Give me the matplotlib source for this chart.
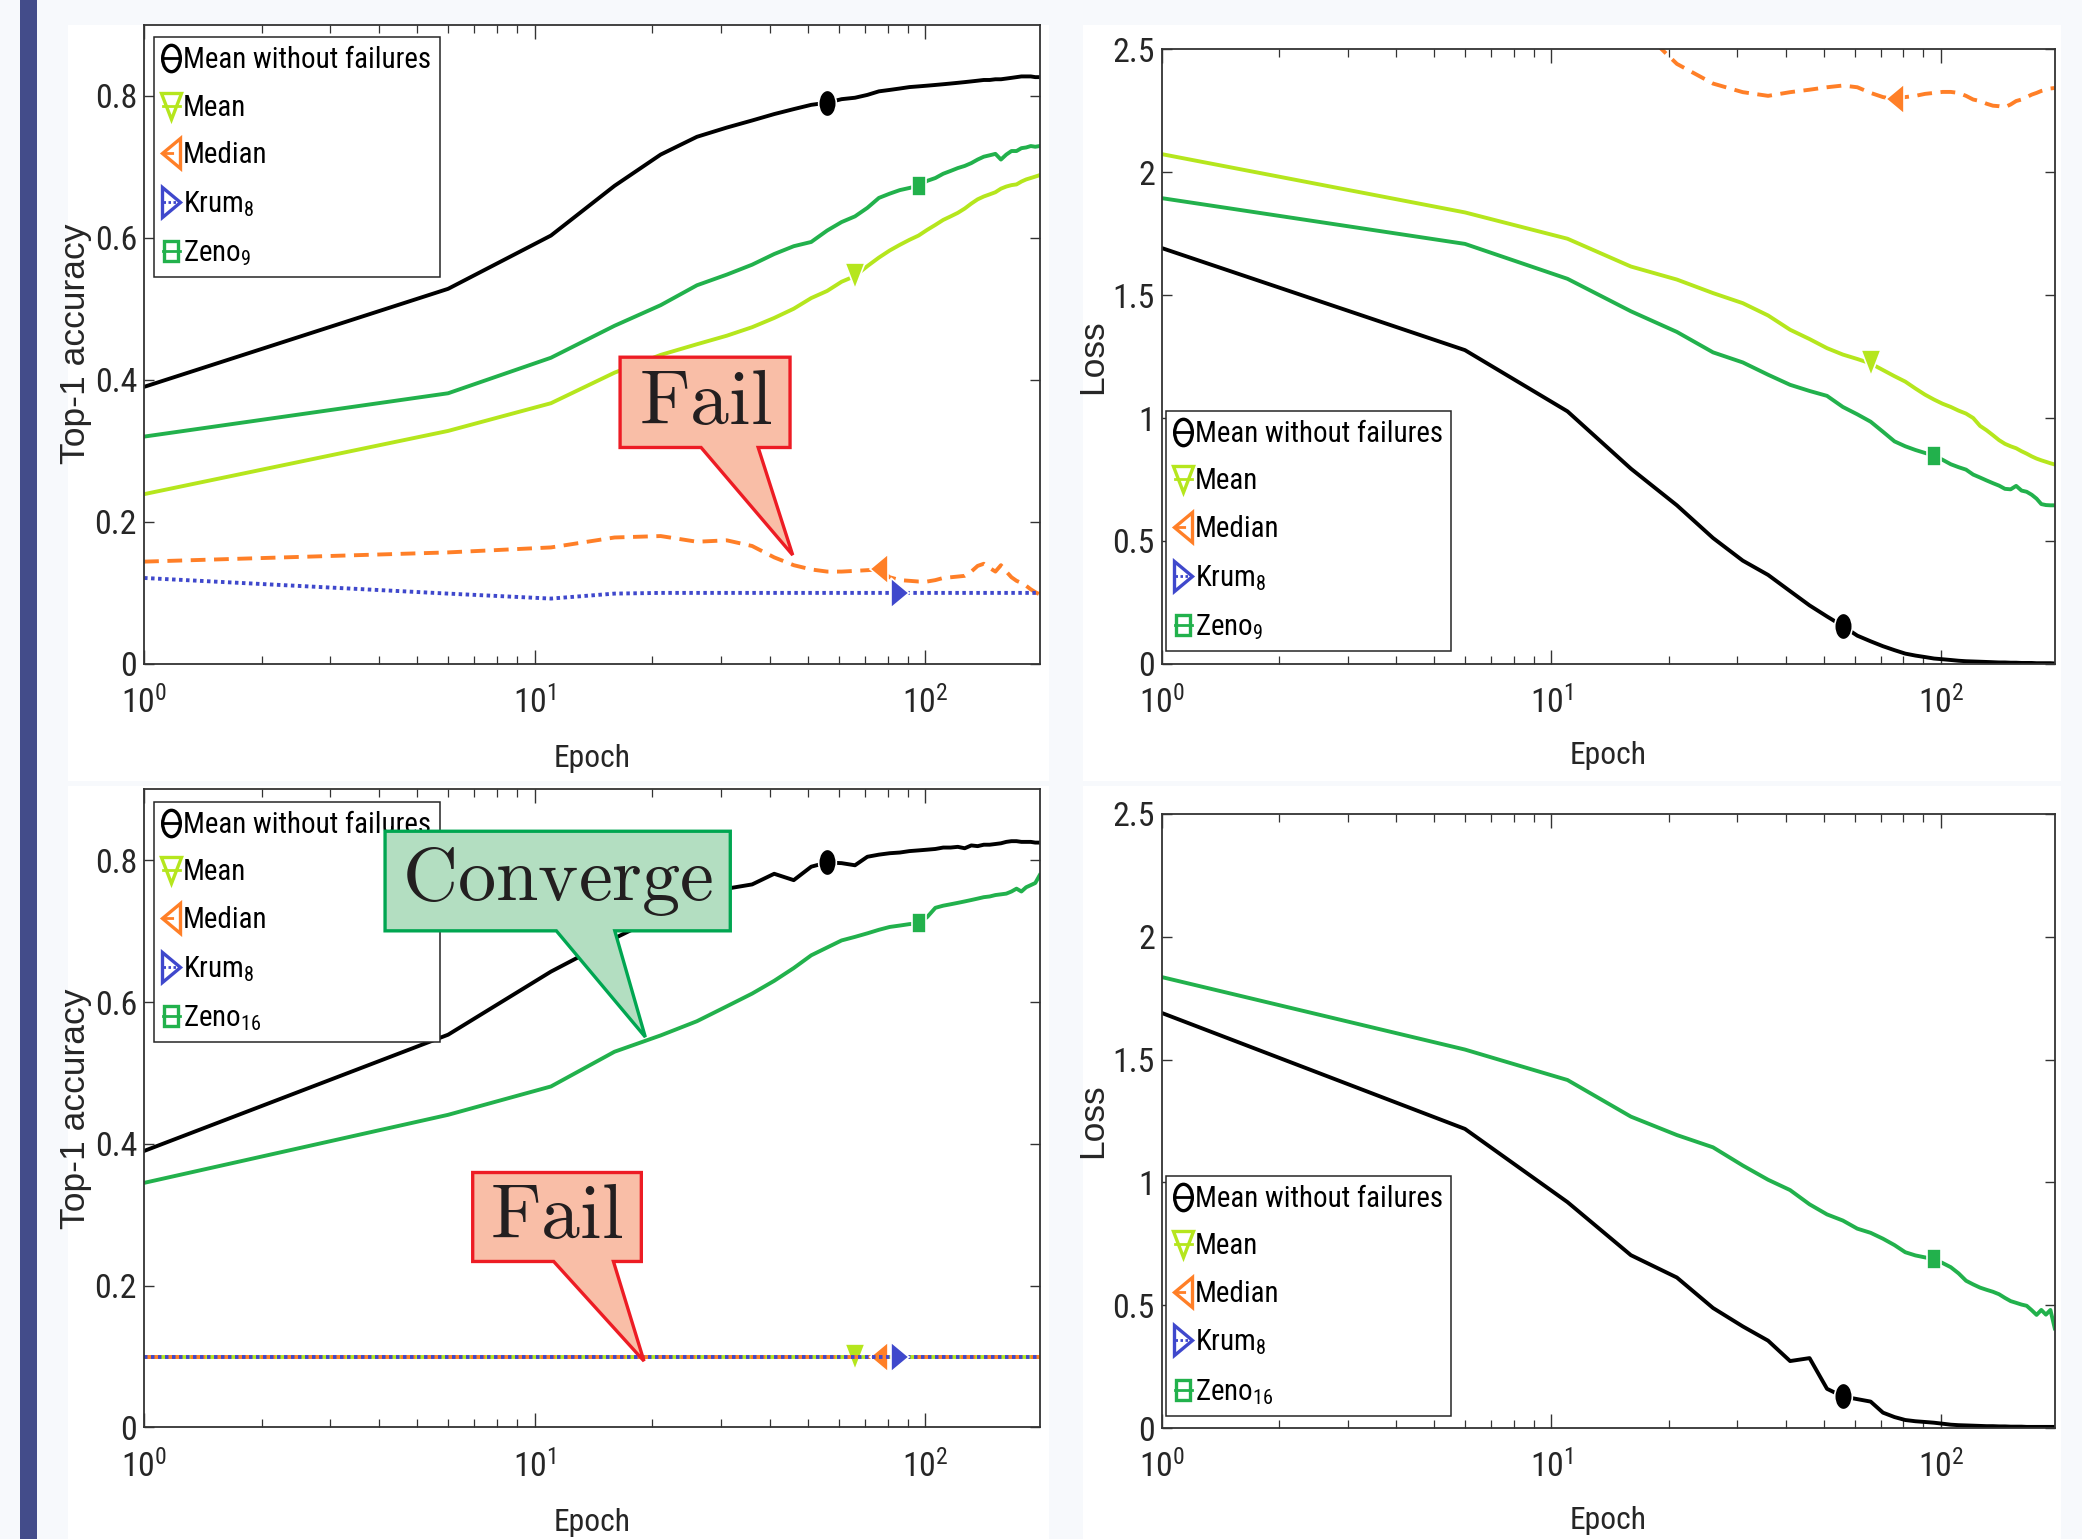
import numpy as np
import matplotlib
matplotlib.use('Agg')
import matplotlib.pyplot as plt
from matplotlib import font_manager
from matplotlib.markers import MarkerStyle
from matplotlib.transforms import Affine2D
from matplotlib.lines import Line2D
from matplotlib.patches import Polygon, Rectangle
from matplotlib.ticker import LogLocator, NullFormatter

# ---------------- data ----------------
epochs = [1, 6, 11, 16, 21, 26, 31, 36, 41, 46,
          51, 56, 61, 66, 71, 76, 81, 86, 91, 96,
          101, 106, 111, 116, 121, 126, 131, 136, 141, 146,
          151, 156, 161, 166, 171, 176, 181, 186, 191, 196]

# top row: Zeno_9 experiment
acc_nofail_top = [0.390, 0.528, 0.603, 0.673, 0.717, 0.742, 0.755, 0.765, 0.774, 0.781,
                  0.787, 0.790, 0.795, 0.797, 0.801, 0.806, 0.808, 0.810, 0.812, 0.813,
                  0.814, 0.815, 0.816, 0.817, 0.818, 0.819, 0.820, 0.821, 0.822, 0.822,
                  0.823, 0.823, 0.824, 0.825, 0.826, 0.827, 0.827, 0.827, 0.826, 0.826]
acc_mean_top = [0.239, 0.328, 0.367, 0.410, 0.435, 0.450, 0.462, 0.474, 0.487, 0.500,
                0.515, 0.525, 0.538, 0.546, 0.560, 0.572, 0.582, 0.590, 0.597, 0.603,
                0.611, 0.618, 0.625, 0.630, 0.635, 0.641, 0.648, 0.654, 0.658, 0.661,
                0.664, 0.669, 0.672, 0.674, 0.675, 0.679, 0.682, 0.684, 0.686, 0.688]
acc_median_top = [0.144, 0.157, 0.164, 0.178, 0.180, 0.172, 0.174, 0.166, 0.150, 0.139,
                  0.133, 0.130, 0.130, 0.131, 0.132, 0.133, 0.122, 0.118, 0.117, 0.116,
                  0.116, 0.118, 0.121, 0.122, 0.123, 0.124, 0.130, 0.138, 0.141, 0.135,
                  0.130, 0.139, 0.130, 0.122, 0.117, 0.114, 0.110, 0.105, 0.101, 0.098]
acc_krum_top = [0.121, 0.099, 0.092, 0.099, 0.100, 0.100, 0.100, 0.100, 0.100, 0.100,
                0.100, 0.100, 0.100, 0.100, 0.100, 0.100, 0.100, 0.100, 0.100, 0.100,
                0.100, 0.100, 0.100, 0.100, 0.100, 0.100, 0.100, 0.100, 0.100, 0.100,
                0.100, 0.100, 0.100, 0.100, 0.100, 0.100, 0.100, 0.100, 0.100, 0.100]
acc_zeno_top = [0.320, 0.381, 0.431, 0.476, 0.505, 0.533, 0.548, 0.562, 0.577, 0.588,
                0.594, 0.610, 0.622, 0.630, 0.642, 0.656, 0.662, 0.667, 0.670, 0.673,
                0.680, 0.684, 0.690, 0.694, 0.698, 0.701, 0.705, 0.710, 0.714, 0.716,
                0.718, 0.710, 0.717, 0.722, 0.722, 0.726, 0.727, 0.729, 0.728, 0.729]

loss_nofail_top = [1.691, 1.276, 1.027, 0.794, 0.645, 0.512, 0.420, 0.362, 0.296, 0.238,
                   0.193, 0.154, 0.115, 0.092, 0.072, 0.056, 0.042, 0.034, 0.028, 0.022,
                   0.019, 0.016, 0.013, 0.011, 0.010, 0.009, 0.008, 0.007, 0.006, 0.006,
                   0.005, 0.005, 0.004, 0.004, 0.004, 0.003, 0.003, 0.003, 0.003, 0.002]
loss_mean_top = [2.073, 1.836, 1.729, 1.616, 1.563, 1.508, 1.467, 1.417, 1.359, 1.321,
                 1.284, 1.258, 1.240, 1.222, 1.195, 1.170, 1.148, 1.120, 1.095, 1.075,
                 1.058, 1.045, 1.030, 1.018, 1.000, 0.968, 0.950, 0.930, 0.910, 0.895,
                 0.885, 0.877, 0.865, 0.855, 0.844, 0.835, 0.828, 0.822, 0.816, 0.811]
loss_median_top = [3.200, 2.950, 2.800, 2.620, 2.440, 2.360, 2.325, 2.310, 2.325, 2.335,
                   2.345, 2.352, 2.345, 2.322, 2.305, 2.297, 2.305, 2.310, 2.318, 2.322,
                   2.326, 2.326, 2.322, 2.310, 2.295, 2.289, 2.278, 2.270, 2.268, 2.264,
                   2.275, 2.289, 2.295, 2.305, 2.315, 2.322, 2.330, 2.335, 2.340, 2.342]
loss_zeno_top = [1.894, 1.708, 1.566, 1.434, 1.350, 1.267, 1.226, 1.176, 1.135, 1.110,
                 1.090, 1.045, 1.015, 0.985, 0.944, 0.905, 0.885, 0.870, 0.858, 0.847,
                 0.830, 0.812, 0.800, 0.790, 0.770, 0.758, 0.746, 0.735, 0.725, 0.712,
                 0.710, 0.724, 0.705, 0.700, 0.688, 0.672, 0.650, 0.646, 0.645, 0.645]

# bottom row: Zeno_16 experiment
acc_nofail_bot = [0.390, 0.554, 0.643, 0.690, 0.722, 0.745, 0.760, 0.766, 0.781, 0.772,
                  0.791, 0.797, 0.796, 0.793, 0.805, 0.808, 0.810, 0.811, 0.813, 0.814,
                  0.815, 0.816, 0.818, 0.818, 0.819, 0.817, 0.821, 0.820, 0.822, 0.822,
                  0.823, 0.824, 0.826, 0.827, 0.827, 0.826, 0.826, 0.826, 0.825, 0.825]
acc_mean_bot = [0.100, 0.100, 0.100, 0.100, 0.100, 0.100, 0.100, 0.100, 0.100, 0.100,
                0.100, 0.100, 0.100, 0.100, 0.100, 0.100, 0.100, 0.100, 0.100, 0.100,
                0.100, 0.100, 0.100, 0.100, 0.100, 0.100, 0.100, 0.100, 0.100, 0.100,
                0.100, 0.100, 0.100, 0.100, 0.100, 0.100, 0.100, 0.100, 0.100, 0.100]
acc_median_bot = [0.100, 0.100, 0.100, 0.100, 0.100, 0.100, 0.100, 0.100, 0.100, 0.100,
                  0.100, 0.100, 0.100, 0.100, 0.100, 0.100, 0.100, 0.100, 0.100, 0.100,
                  0.100, 0.100, 0.100, 0.100, 0.100, 0.100, 0.100, 0.100, 0.100, 0.100,
                  0.100, 0.100, 0.100, 0.100, 0.100, 0.100, 0.100, 0.100, 0.100, 0.100]
acc_krum_bot = [0.100, 0.100, 0.100, 0.100, 0.100, 0.100, 0.100, 0.100, 0.100, 0.100,
                0.100, 0.100, 0.100, 0.100, 0.100, 0.100, 0.100, 0.100, 0.100, 0.100,
                0.100, 0.100, 0.100, 0.100, 0.100, 0.100, 0.100, 0.100, 0.100, 0.100,
                0.100, 0.100, 0.100, 0.100, 0.100, 0.100, 0.100, 0.100, 0.100, 0.100]
acc_zeno_bot = [0.345, 0.441, 0.481, 0.530, 0.553, 0.573, 0.594, 0.612, 0.630, 0.648,
                0.666, 0.677, 0.687, 0.692, 0.697, 0.702, 0.706, 0.708, 0.710, 0.711,
                0.720, 0.733, 0.736, 0.738, 0.740, 0.742, 0.744, 0.746, 0.748, 0.749,
                0.751, 0.752, 0.753, 0.756, 0.760, 0.756, 0.762, 0.765, 0.768, 0.779]

loss_nofail_bot = [1.690, 1.218, 0.920, 0.704, 0.613, 0.489, 0.414, 0.356, 0.273, 0.285,
                   0.160, 0.129, 0.118, 0.108, 0.063, 0.045, 0.033, 0.028, 0.025, 0.022,
                   0.018, 0.014, 0.012, 0.011, 0.010, 0.009, 0.008, 0.008, 0.007, 0.007,
                   0.006, 0.006, 0.006, 0.005, 0.005, 0.005, 0.005, 0.005, 0.005, 0.005]
loss_zeno_bot = [1.836, 1.541, 1.417, 1.268, 1.193, 1.143, 1.069, 1.011, 0.969, 0.911,
                 0.870, 0.845, 0.812, 0.795, 0.771, 0.745, 0.716, 0.703, 0.695, 0.688,
                 0.672, 0.655, 0.630, 0.600, 0.585, 0.572, 0.563, 0.555, 0.545, 0.530,
                 0.517, 0.510, 0.503, 0.498, 0.480, 0.461, 0.481, 0.462, 0.481, 0.406]

acc_ticks = [0, 0.2, 0.4, 0.6, 0.8]
acc_ticklabels = ['0', '0.2', '0.4', '0.6', '0.8']
loss_ticks = [0, 0.5, 1, 1.5, 2, 2.5]
loss_ticklabels = ['0', '0.5', '1', '1.5', '2', '2.5']

labels_top = ['Mean without failures', 'Mean', 'Median', r'Krum$_{8}$', r'Zeno$_{9}$']
labels_bot = ['Mean without failures', 'Mean', 'Median', r'Krum$_{8}$', r'Zeno$_{16}$']

# ---------------- fonts ----------------
ttf = font_manager.fontManager.ttflist
names = {f.name for f in ttf}
REG = 'Liberation Sans' if 'Liberation Sans' in names else 'DejaVu Sans'
NARROW, STRETCH = None, 'normal'
for n in ['Liberation Sans Narrow', 'Arial Narrow', 'Roboto Condensed',
          'Open Sans Condensed', 'Noto Sans Condensed', 'Nimbus Sans Narrow']:
    if n in names:
        NARROW = n
        break
if NARROW is None:
    conds = {f.name for f in ttf
             if str(f.stretch) in ('condensed', 'semi-condensed') and f.style == 'normal'}
    for n in ['Liberation Sans', 'Roboto', 'Noto Sans', 'Open Sans', 'DejaVu Sans', 'Lato', 'Inter']:
        if n in conds:
            NARROW, STRETCH = n, 'condensed'
            break
if NARROW is None:
    NARROW = REG

plt.rcParams.update({
    'font.family': [NARROW, 'DejaVu Sans'],
    'font.stretch': STRETCH,
    'mathtext.fontset': 'custom',
    'mathtext.rm': NARROW + (':stretch=condensed' if STRETCH != 'normal' else ''),
    'mathtext.it': NARROW + ':italic',
    'mathtext.bf': NARROW + ':bold',
    'mathtext.sf': NARROW,
})

C_MEAN = '#b5e61d'
C_MED = '#ff7f27'
C_KRUM = '#3f48cc'
C_ZENO = '#22b14c'
C_AX = '#333333'

def mk(m, sx):
    return MarkerStyle(m, transform=Affine2D().scale(sx, 1.0))

MK = {'o': (mk('o', 0.67), 19), 'v': (mk('v', 0.77), 19), '<': (mk('<', 0.60), 22),
      '>': (mk('>', 0.60), 22), 's': (mk('s', 0.69), 15)}

W, H = 1568.0, 1159.0
SC = 2082.0 / W  # shown px -> output px
def fx(x):
    return x / W
def fy(y):
    return 1 - y / H

fig = plt.figure(figsize=(20.82, 15.39), dpi=100, facecolor='#f7f9fc')
renderer = fig.canvas.get_renderer()

def fit_size(s, target_px, limit):
    t = fig.text(0, 0, s, fontsize=20)
    w = t.get_window_extent(renderer).width
    t.remove()
    return min(20.0 * target_px / w, limit)

# sizes adapted to the available font width (reference text is narrow and tall)
LEG_FS = fit_size('Mean without failures', 186 * SC, 24)
TICK_FS = fit_size('0.8', 32 * SC, 27)
XLAB_FS = fit_size('Epoch', 58 * SC, 25)
row_px = 35.5 * SC
LEG_SP = max(0.25, row_px / (LEG_FS * 100 / 72.0) - 0.95)

# left accent bar and white panels
fig.add_artist(Rectangle((fx(15), 0), fx(28) - fx(15), 1, transform=fig.transFigure,
                         facecolor='#434c8a', edgecolor='none', zorder=-5))
for (x0, y0, x1, y1) in [(51, 19, 790, 588), (816, 19, 1552, 588),
                         (51, 592, 790, 1159), (816, 592, 1552, 1159)]:
    fig.add_artist(Rectangle((fx(x0), fy(y1)), fx(x1) - fx(x0), fy(y0) - fy(y1),
                             transform=fig.transFigure, facecolor='white',
                             edgecolor='none', zorder=-4))

def add_ax(x0, y0, x1, y1):
    return fig.add_axes([fx(x0), fy(y1), fx(x1) - fx(x0), fy(y0) - fy(y1)])

ax_tl = add_ax(108.5, 18.5, 783, 500)
ax_tr = add_ax(875, 37, 1547.5, 500)
ax_bl = add_ax(108.5, 594.5, 783, 1075)
ax_br = add_ax(875, 613, 1547.5, 1075.5)

def setup(ax, kind):
    ax.set_xscale('log')
    ax.set_xlim(epochs[0], epochs[-1])
    if kind == 'acc':
        ax.set_ylim(0, 0.9)
        ax.set_yticks(acc_ticks)
        ax.set_yticklabels(acc_ticklabels)
        ax.set_ylabel('Top-1 accuracy', fontfamily=REG, fontsize=25.5, color='#262626')
        ax.yaxis.set_label_coords(-0.058, 0.5)
    else:
        ax.set_ylabel('Loss', fontfamily=REG, fontsize=25.5, color='#262626')
        ax.set_ylim(0, 2.5)
        ax.set_yticks(loss_ticks)
        ax.set_yticklabels(loss_ticklabels)
        ax.yaxis.set_label_coords(-0.059, 0.5)
    ax.xaxis.set_major_locator(LogLocator(base=10))
    ax.xaxis.set_minor_locator(LogLocator(base=10, subs=(2, 3, 4, 5, 6, 7, 8, 9)))
    ax.xaxis.set_minor_formatter(NullFormatter())
    ax.tick_params(which='both', direction='in', top=True, right=True,
                   color=C_AX, labelcolor='#262626', labelsize=TICK_FS)
    ax.tick_params(axis='x', which='major', length=10, width=1.0, pad=16)
    ax.tick_params(axis='x', which='minor', length=5.5, width=0.9)
    ax.tick_params(axis='y', which='major', length=7, width=1.0, pad=5)
    for s in ax.spines.values():
        s.set_color(C_AX)
        s.set_linewidth(1.3)
    ax.set_xlabel('Epoch', fontsize=XLAB_FS, color='#262626')
    ax.xaxis.set_label_coords(0.5, -0.126)

def draw(ax, y, color, ls, m, idx, lw=2.8):
    mstyle, ms = MK[m]
    ax.plot(epochs, y, color=color, ls=ls, lw=lw, marker=mstyle, ms=ms,
            markevery=[idx], mfc=color, mec='white', mew=1.2)

DASH = (0, (3.8, 2.2))
DOT = (0, (0.9, 0.9))

def legend(ax, labels, loc, anchor):
    specs = [('k', '-', 'o'), (C_MEAN, '-', 'v'), (C_MED, DASH, '<'),
             (C_KRUM, DOT, '>'), (C_ZENO, '-', 's')]
    handles = []
    for c, ls, m in specs:
        mstyle, ms = MK[m]
        handles.append(Line2D([0], [0], color=c, ls=ls, lw=2.0, marker=mstyle,
                              ms=ms, mfc='none', mec=c, mew=2.4))
    leg = ax.legend(handles, labels, loc=loc, bbox_to_anchor=anchor, borderaxespad=0,
                    frameon=True, fancybox=False, edgecolor='#262626', framealpha=1,
                    fontsize=LEG_FS, handlelength=0.6, handletextpad=0.1, borderpad=0.3,
                    labelspacing=LEG_SP)
    leg.get_frame().set_linewidth(1.1)
    return leg

# top-left accuracy
setup(ax_tl, 'acc')
draw(ax_tl, acc_nofail_top, 'k', '-', 'o', 11)
draw(ax_tl, acc_mean_top, C_MEAN, '-', 'v', 13)
draw(ax_tl, acc_median_top, C_MED, DASH, '<', 15)
draw(ax_tl, acc_krum_top, C_KRUM, DOT, '>', 17)
draw(ax_tl, acc_zeno_top, C_ZENO, '-', 's', 19)
legend(ax_tl, labels_top, 'upper left', (0.011, 0.98))

# top-right loss
setup(ax_tr, 'loss')
draw(ax_tr, loss_nofail_top, 'k', '-', 'o', 11)
draw(ax_tr, loss_mean_top, C_MEAN, '-', 'v', 13)
draw(ax_tr, loss_median_top, C_MED, DASH, '<', 15)
draw(ax_tr, loss_zeno_top, C_ZENO, '-', 's', 19)
legend(ax_tr, labels_top, 'lower left', (0.0045, 0.0216))

# bottom-left accuracy
setup(ax_bl, 'acc')
draw(ax_bl, acc_nofail_bot, 'k', '-', 'o', 11)
draw(ax_bl, acc_mean_bot, C_MEAN, '-', 'v', 13)
draw(ax_bl, acc_median_bot, C_MED, DASH, '<', 15)
draw(ax_bl, acc_krum_bot, C_KRUM, DOT, '>', 17)
draw(ax_bl, acc_zeno_bot, C_ZENO, '-', 's', 19)
legend(ax_bl, labels_bot, 'upper left', (0.011, 0.98))

# bottom-right loss
setup(ax_br, 'loss')
draw(ax_br, loss_nofail_bot, 'k', '-', 'o', 11)
draw(ax_br, loss_zeno_bot, C_ZENO, '-', 's', 19)
legend(ax_br, labels_bot, 'lower left', (0.0045, 0.0205))

# callouts
def callout(box, base, tip, text, fc, ec, fs):
    x0, y0, x1, y1 = box
    bl, br = base
    pts = [(x0, y0), (x1, y0), (x1, y1), (br, y1), tip, (bl, y1), (x0, y1)]
    fig.add_artist(Polygon([(fx(x), fy(y)) for x, y in pts], closed=True,
                           transform=fig.transFigure, facecolor=fc, edgecolor=ec,
                           lw=2.4, joinstyle='miter', zorder=20))
    fig.text(fx((x0 + x1) / 2), fy((y0 + y1) / 2), r'$\mathrm{%s}$' % text,
             math_fontfamily='cm', fontsize=fs, ha='center', va='center',
             color='#231f20', zorder=21)

callout((467, 269, 595, 337), (528, 571), (597, 418), 'Fail', '#f9bea7', '#ed1c24', 56)
callout((290, 626, 550, 701), (419, 463), (486, 781), 'Converge', '#b3dec1', '#00a651', 55)
callout((356, 883, 483, 950), (417, 462), (485, 1025), 'Fail', '#f9bea7', '#ed1c24', 56)

fig.savefig('out.png', dpi=100, facecolor=fig.get_facecolor())
